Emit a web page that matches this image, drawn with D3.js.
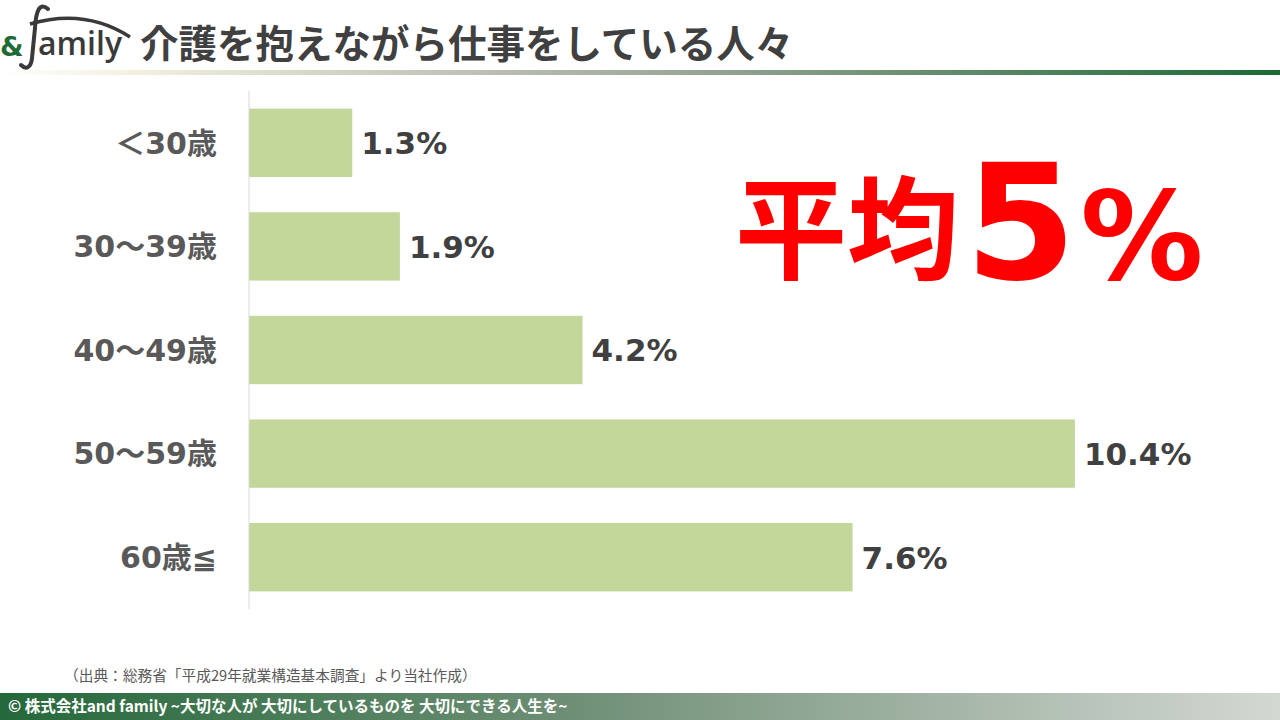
<!DOCTYPE html>
<html>
<head>
<meta charset="utf-8">
<script src="https://cdn.jsdelivr.net/npm/d3@7"></script>
<style>
  body { margin: 0; background: #fff; }
  svg { display: block; font-family: "Noto Sans CJK JP", "Noto Sans", sans-serif; }
</style>
</head>
<body>
<svg id="chart" width="1280" height="720"></svg>
<script>
// data
var categories = ['＜30歳', '30～39歳', '40～49歳', '50～59歳', '60歳≦'];
var values = [1.3, 1.9, 4.2, 10.4, 7.6];
var valueLabels = ['1.3%', '1.9%', '4.2%', '10.4%', '7.6%'];

var numFont = '"DejaVu Sans", "Noto Sans CJK JP", sans-serif';

var svg = d3.select('#chart');
var defs = svg.append('defs');

// header line gradient
var hg = defs.append('linearGradient').attr('id', 'headGrad')
    .attr('x1', 0).attr('x2', 1).attr('y1', 0).attr('y2', 0);
hg.append('stop').attr('offset', '0%').attr('stop-color', '#ffffff');
hg.append('stop').attr('offset', '10%').attr('stop-color', '#f3f1de');
hg.append('stop').attr('offset', '50%').attr('stop-color', '#a3ab9d');
hg.append('stop').attr('offset', '100%').attr('stop-color', '#1b6a34');

// footer gradient
var fg = defs.append('linearGradient').attr('id', 'footGrad')
    .attr('x1', 0).attr('x2', 1).attr('y1', 0).attr('y2', 0);
fg.append('stop').attr('offset', '0%').attr('stop-color', '#24683a');
fg.append('stop').attr('offset', '45%').attr('stop-color', '#6f8f76');
fg.append('stop').attr('offset', '100%').attr('stop-color', '#d4d8d3');

// header
svg.append('rect').attr('x', 0).attr('y', 70).attr('width', 1280).attr('height', 5)
    .attr('fill', 'url(#headGrad)');

// logo
var logo = svg.append('g');
logo.append('path')
    .attr('d', 'M30,24 Q85,8 130,37')
    .attr('fill', 'none').attr('stroke', '#3a3a3a').attr('stroke-width', 3.5);
logo.append('path')
    .attr('d', 'M48,9 C40,2 36,10 35,28 L32,58 C31,68 26,70 21,65')
    .attr('fill', 'none').attr('stroke', '#3a3a3a').attr('stroke-width', 4)
    .attr('stroke-linecap', 'round');
logo.append('text').attr('x', 0).attr('y', 56)
    .attr('font-size', 27).attr('font-weight', 'bold').attr('fill', '#1e6b35')
    .attr('font-family', '"DejaVu Sans", sans-serif')
    .text('&');
logo.append('text').attr('x', 38).attr('y', 55)
    .attr('font-size', 32).attr('font-weight', 600).attr('fill', '#3a3a3a')
    .attr('font-family', '"Open Sans", sans-serif')
    .text('amily');

svg.append('text').attr('x', 140).attr('y', 58)
    .attr('font-size', 38.5).attr('font-weight', 'bold').attr('fill', '#404040')
    .text('介護を抱えながら仕事をしている人々');

// chart
var x = d3.scaleLinear().domain([0, 12]).range([249, 1202]);
var y = d3.scaleBand().domain(categories).range([91, 609]).paddingInner(0.34).paddingOuter(0.17);

var rows = categories.map(function (c, i) {
    return {cat: c, val: values[i], label: valueLabels[i]};
});

svg.append('g').selectAll('rect').data(rows).enter().append('rect')
    .attr('x', x(0))
    .attr('y', function (d) { return y(d.cat); })
    .attr('width', function (d) { return x(d.val) - x(0); })
    .attr('height', y.bandwidth())
    .attr('fill', '#c4d79b');

svg.append('line')
    .attr('x1', x(0)).attr('x2', x(0)).attr('y1', 91).attr('y2', 609)
    .attr('stroke', '#d9d9d9').attr('stroke-width', 1);

svg.append('g').selectAll('text').data(rows).enter().append('text')
    .attr('x', 217)
    .attr('y', function (d) { return y(d.cat) + y.bandwidth() / 2; })
    .attr('dy', '0.36em')
    .attr('text-anchor', 'end')
    .attr('font-family', numFont)
    .attr('font-size', 30).attr('font-weight', 'bold').attr('fill', '#595959')
    .text(function (d) { return d.cat; });

svg.append('g').selectAll('text').data(rows).enter().append('text')
    .attr('x', function (d) { return x(d.val) + 9; })
    .attr('y', function (d) { return y(d.cat) + y.bandwidth() / 2; })
    .attr('dy', '0.37em')
    .attr('font-family', numFont)
    .attr('font-size', 31).attr('font-weight', 'bold').attr('fill', '#404040')
    .text(function (d) { return d.label; });

// average callout
var avg = svg.append('text').attr('x', 735).attr('y', 271)
    .attr('font-weight', 'bold').attr('fill', '#ff0000');
avg.append('tspan').attr('font-size', 112).text('平均');
avg.append('tspan').attr('font-size', 160).attr('dx', 6).attr('dy', 8)
    .attr('font-family', numFont).text('5');
avg.append('tspan').attr('font-size', 123).attr('dx', 4)
    .attr('font-family', numFont).text('%');

// source
svg.append('text').attr('x', 64).attr('y', 681)
    .attr('font-size', 14.7).attr('fill', '#595959')
    .text('（出典：総務省「平成29年就業構造基本調査」より当社作成）');

// footer
svg.append('rect').attr('x', 0).attr('y', 693).attr('width', 1280).attr('height', 27)
    .attr('fill', 'url(#footGrad)');
svg.append('text').attr('x', 8).attr('y', 712)
    .attr('font-size', 15.5).attr('font-weight', 'bold').attr('fill', '#ffffff')
    .text('© 株式会社and family ~大切な人が 大切にしているものを 大切にできる人生を~');
</script>
</body>
</html>
